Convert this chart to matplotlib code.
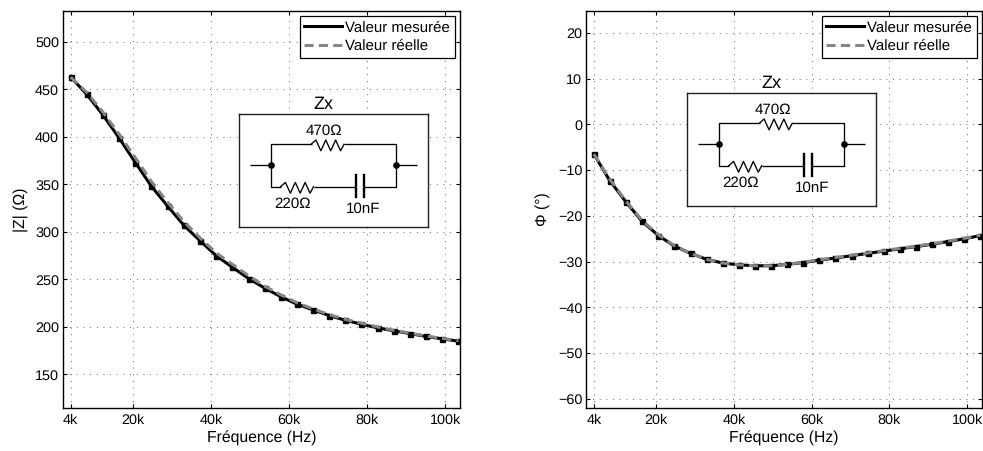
import matplotlib
matplotlib.use("Agg")
import matplotlib.pyplot as plt
from matplotlib.lines import Line2D

plt.rcParams["font.family"] = ["Liberation Sans", "DejaVu Sans"]
plt.rcParams["font.size"] = 10.4
plt.rcParams["text.hinting"] = "no_hinting"

W, H = 983, 451

freq = [4, 8.1, 12.3, 16.4, 20.6, 24.7, 28.9, 33, 37.1, 41.3, 45.4, 49.6, 53.7, 57.8,
        62, 66.1, 70.3, 74.4, 78.5, 82.7, 86.8, 91, 95.1, 99.3, 103.4]
z_measured = [463, 445, 423, 399, 373, 348, 327, 307, 291, 275, 263, 251, 241, 232,
              224, 218, 212, 207, 203, 199, 196, 193, 190, 187.5, 185]
z_real = [463, 447, 426, 403, 378, 353, 331, 311, 294, 278, 266, 254, 243, 234,
          225.5, 219, 213, 208, 204, 200, 196.5, 193.5, 190.5, 188, 185.5]
phi_measured = [-6.5, -12.3, -17, -21.2, -24.3, -26.6, -28.2, -29.5, -30.3, -30.7, -30.9,
                -30.9, -30.6, -30.2, -29.7, -29.2, -28.7, -28.2, -27.7, -27.2, -26.7,
                -26.2, -25.6, -25, -24.3]
phi_real = [-6.5, -12, -16.8, -21, -24.1, -26.5, -28.2, -29.5, -30.3, -30.7, -30.9,
            -30.9, -30.6, -30.1, -29.6, -29.1, -28.6, -28.1, -27.6, -27.1, -26.6,
            -26.1, -25.5, -24.9, -24.2]

x_ticks = [4, 20, 40, 60, 80, 100]
x_labels = ["4k", "20k", "40k", "60k", "80k", "100k"]
z_ticks = [150, 200, 250, 300, 350, 400, 450, 500]
phi_ticks = [-60, -50, -40, -30, -20, -10, 0, 10, 20]

GRAY = "#858585"
DASH = (0, (3, 1.7))


def px_axes(fig, x0, y0, x1, y1):
    return fig.add_axes([x0 / W, 1 - y1 / H, (x1 - x0) / W, (y1 - y0) / H])


def resistor(ax, x0, x1, y):
    # zigzag of six peaks between two wire ends
    step = (x1 - x0) / 6.7
    xs = [x0]
    ys = [y]
    for i in range(6):
        xs.append(x0 + step * (i + 1))
        ys.append(y - 4.3 if i % 2 == 0 else y + 6.5)
    xs.append(x1)
    ys.append(y)
    ax.plot(xs, ys, color="k", lw=0.95)


def circuit(fig, x0, y0, x1, y1):
    # box size is in pixels, the schematic is drawn in the same pixel units
    ax = px_axes(fig, x0, y0, x1, y1)
    w, h = x1 - x0, y1 - y0
    ax.set_xlim(0, w)
    ax.set_ylim(h, 0)
    ax.set_xticks([])
    ax.set_yticks([])
    for s in ax.spines.values():
        s.set_linewidth(1.0)
        s.set_color("#222222")
    ax.text(85, -9.5, "Zx", ha="center", va="center", fontsize=13)
    k = dict(color="k", lw=0.95, solid_capstyle="butt")
    ax.plot([11, 32], [51, 51], **k)
    ax.plot([157, 178], [51, 51], **k)
    ax.plot([32, 32, 73], [51, 30, 30], **k)
    ax.plot([105.5, 157, 157], [30, 30, 51], **k)
    resistor(ax, 72.5, 105.5, 30)
    ax.plot([32, 32, 42], [51, 72.4, 72.4], **k)
    resistor(ax, 42, 75, 72.4)
    ax.plot([75, 117.5], [72.4, 72.4], **k)
    ax.plot([117.5, 117.5], [61, 83], color="k", lw=1.7)
    ax.plot([125, 125], [61, 83], color="k", lw=1.7)
    ax.plot([125, 157, 157], [72.4, 72.4, 51], **k)
    ax.plot([32, 157], [51, 51], "o", color="k", ms=3.8)
    ax.text(85.8, 16.4, "470Ω", ha="center", va="center", fontsize=10.9)
    ax.text(54, 89.7, "220Ω", ha="center", va="center", fontsize=10.9)
    ax.text(125, 95, "10nF", ha="center", va="center", fontsize=10.9)


def panel(fig, box, measured, real, y_ticks, ylim, ylabel):
    ax = px_axes(fig, *box)
    ax.plot(freq, measured, color="k", lw=2.2, marker="s", ms=3.6)
    ax.plot(freq, real, color=GRAY, lw=2.2, ls=DASH)
    ax.set_xlim(1.9, 103.8)
    ax.set_ylim(*ylim)
    ax.set_xticks(x_ticks)
    ax.set_xticklabels(x_labels)
    ax.set_yticks(y_ticks)
    ax.set_xlabel("Fréquence (Hz)", fontsize=11.3, labelpad=3)
    ax.set_ylabel(ylabel, fontsize=11.3, labelpad=5.3)
    ax.grid(True, color="#333333", ls=(0, (1, 7)), lw=0.6)
    ax.tick_params(direction="in", length=3, width=0.8, top=True, right=True)
    ax.tick_params(axis="y", pad=2.5)
    ax.tick_params(axis="x", pad=4)
    for s in ax.spines.values():
        s.set_linewidth(1.0)
    handles = [Line2D([], [], color="k", lw=2.2),
               Line2D([], [], color=GRAY, lw=2.2, ls=DASH)]
    leg = ax.legend(handles, ["Valeur mesurée", "Valeur réelle"], loc="upper right",
                    fontsize=10.8, fancybox=False, framealpha=1, edgecolor="k",
                    borderpad=0.3, labelspacing=0.3, handlelength=2.5,
                    handletextpad=0.26, borderaxespad=0.35)
    leg.get_frame().set_linewidth(0.9)
    return ax


fig = plt.figure(figsize=(W / 100, H / 100), dpi=100)
panel(fig, (62.5, 11, 460, 408), z_measured, z_real, z_ticks, (114.7, 532.6), "|Z| (Ω)")
panel(fig, (585.7, 11, 982, 408), phi_measured, phi_real, phi_ticks, (-62, 24.8), "Φ (°)")
circuit(fig, 238.5, 114.3, 428, 227)
circuit(fig, 686.7, 93.3, 876, 206)
fig.savefig("out.png", dpi=100)
